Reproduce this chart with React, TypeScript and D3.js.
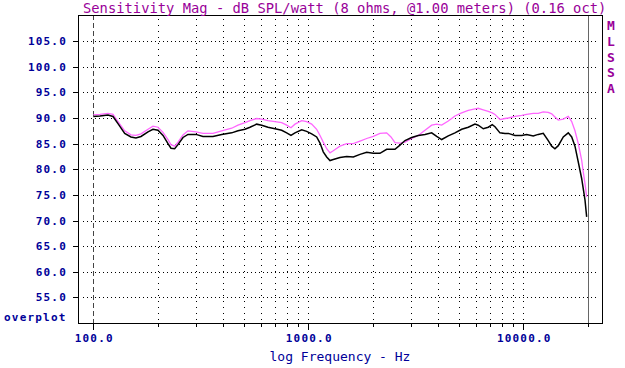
import React from 'react'
import * as d3 from 'd3'

const frequencies = [
  100, 107.4, 117, 123.5, 130.3, 140, 149.7, 157.9, 166.7, 179.7, 189.5, 200, 211, 222.6, 229.8, 239.1,
  247.7, 261.4, 275.7, 300.4, 323.7, 360.4, 395.6, 440.4, 471, 507.7, 535.6, 575.4, 607.1, 649.5, 700,
  752.2, 793.5, 830.9, 867.3, 931.7, 983.1, 1037, 1094, 1134, 1174, 1218, 1262, 1307, 1404, 1509, 1620,
  1740, 1869, 2006, 2155, 2315, 2425, 2531, 2670, 2818, 3026, 3248, 3490, 3750, 3956, 4174, 4479, 4812,
  5171, 5549, 5962, 6176, 6516, 6874, 7175, 7386, 7792, 8221, 8517, 9150, 9831, 10370, 11130, 11740,
  12390, 13070, 13560, 14040, 14550, 15350, 16190, 16800, 17400, 18030, 18690, 19010, 19370, 19720,
]

// black trace
const splBlack = [
  90.3, 90.4, 90.6, 90.3, 88.9, 87.0, 86.3, 86.1, 86.4, 87.3, 87.8, 87.6, 86.6, 85.0, 84.1, 84.0,
  84.8, 86.2, 86.8, 86.8, 86.4, 86.4, 86.8, 87.1, 87.5, 87.8, 88.2, 88.8, 88.6, 88.2, 87.9,
  87.6, 87.1, 86.6, 87.1, 87.7, 87.4, 86.9, 86.3, 85.1, 83.4, 82.4, 81.7, 81.9, 82.3, 82.5, 82.4,
  82.9, 83.3, 83.1, 83.1, 83.9, 83.9, 83.9, 84.7, 85.6, 86.2, 86.6, 86.8, 87.1, 86.4, 85.8, 86.5, 87.1,
  87.8, 88.2, 88.8, 88.6, 87.9, 88.2, 88.7, 88.3, 87.1, 87.0, 87.0, 86.6, 86.6, 86.8, 86.5, 86.8,
  87.0, 85.6, 84.5, 84.0, 84.6, 86.3, 87.1, 86.3, 84.5, 81.4, 78.2, 76.2, 74.0, 70.7,
]

// overplot trace
const splOverplot = [
  90.6, 90.7, 90.9, 90.7, 89.3, 87.5, 86.7, 86.6, 86.9, 87.8, 88.4, 88.2, 87.2, 85.8, 84.8, 84.5,
  85.3, 86.7, 87.5, 87.3, 87.0, 87.0, 87.5, 88.0, 88.6, 89.1, 89.5, 89.9, 89.8, 89.5, 89.3,
  89.1, 88.6, 88.1, 88.8, 89.5, 89.3, 88.8, 87.8, 86.6, 85.3, 84.0, 83.2, 83.6, 84.5, 85.0, 85.0,
  85.5, 86.0, 86.4, 87.0, 87.1, 86.3, 85.2, 85.1, 85.3, 86.0, 86.6, 87.6, 88.6, 88.8, 88.6, 89.4, 90.4,
  91.0, 91.5, 91.8, 91.9, 91.6, 91.3, 91.0, 90.7, 89.7, 89.9, 90.0, 90.3, 90.5, 90.7, 90.9, 90.9,
  91.2, 91.1, 90.8, 90.2, 89.6, 89.8, 90.3, 89.3, 87.5, 85.0, 81.8, 79.5, 77.2, 74.6,
]

const dbTicks = [55, 60, 65, 70, 75, 80, 85, 90, 95, 100, 105]
const freqLabels = [100, 1000, 10000]
const gridFreqs = [200, 300, 400, 500, 600, 700, 800, 900, 1000, 2000, 3000, 4000, 5000, 6000, 7000, 8000, 9000, 10000]
const tickFreqs = [100, 200, 300, 400, 500, 600, 700, 800, 900, 1000, 2000, 3000, 4000, 5000, 6000, 7000, 8000, 9000, 10000, 20000]

const width = 625
const height = 368
const frame = { left: 78, right: 602, top: 15, bottom: 323 }

const xScale = d3.scaleLog().domain([84.9, 23240]).range([frame.left, frame.right])
const yScale = d3.scaleLinear().domain([50, 110]).range([frame.bottom, frame.top + 0.5])

const blue = '#000099'
const purple = '#990099'
const mono = '"DejaVu Sans Mono", "Liberation Mono", monospace'

const line = d3
  .line<number>()
  .x((d, i) => xScale(frequencies[i]))
  .y(d => yScale(d))

function Grid() {
  return (
    <g>
      {dbTicks.map(t => (
        <line key={t} x1={83} x2={598} y1={Math.round(yScale(t)) + 0.5} y2={Math.round(yScale(t)) + 0.5}
          stroke="#000" strokeWidth={1} strokeDasharray="1 3" />
      ))}
      {gridFreqs.map(f => (
        <line key={f} x1={Math.round(xScale(f)) + 0.5} x2={Math.round(xScale(f)) + 0.5} y1={19} y2={321}
          stroke="#000" strokeWidth={1} strokeDasharray="1 5" />
      ))}
      <line x1={Math.round(xScale(100)) + 0.5} x2={Math.round(xScale(100)) + 0.5} y1={frame.top} y2={frame.bottom}
        stroke="#444" strokeWidth={1} strokeDasharray="5 3" />
      <line x1={Math.round(xScale(20000)) + 0.5} x2={Math.round(xScale(20000)) + 0.5} y1={frame.top} y2={frame.bottom}
        stroke="#666" strokeWidth={1} />
    </g>
  )
}

function Axes() {
  return (
    <g>
      <rect x={frame.left + 0.5} y={frame.top + 0.5} width={frame.right - frame.left} height={frame.bottom - frame.top}
        fill="none" stroke="#000" strokeWidth={1} />
      {dbTicks.map(t => (
        <g key={t}>
          <line x1={73} x2={frame.left} y1={Math.round(yScale(t)) + 0.5} y2={Math.round(yScale(t)) + 0.5} stroke="#000" />
          <text x={67} y={yScale(t) + 4} textAnchor="end" fontFamily={mono} fontWeight="bold" fontSize={11}
            letterSpacing={1.2} fill={blue}>
            {t.toFixed(1)}
          </text>
        </g>
      ))}
      {tickFreqs.map(f => {
        const major = freqLabels.includes(f)
        return (
          <line key={f} x1={Math.round(xScale(f)) + 0.5} x2={Math.round(xScale(f)) + 0.5}
            y1={frame.bottom} y2={frame.bottom + (major ? 7 : 4)} stroke="#000" />
        )
      })}
      {freqLabels.map(f => (
        <text key={f} x={xScale(f) + 1} y={342} textAnchor="middle" fontFamily={mono} fontWeight="bold"
          fontSize={11} letterSpacing={1.2} fill={blue}>
          {f.toFixed(1)}
        </text>
      ))}
      <text x={4} y={321} fontFamily={mono} fontWeight="bold" fontSize={11} letterSpacing={1.2} fill={blue}>
        overplot
      </text>
      <text x={340} y={361} textAnchor="middle" fontFamily={mono} fontSize={13} fill={blue}>
        log Frequency - Hz
      </text>
    </g>
  )
}

function Titles() {
  const letters = ['M', 'L', 'S', 'S', 'A']
  return (
    <g>
      <text x={83} y={13} fontFamily={mono} fontSize={13.8} fill={purple}>
        Sensitivity Mag - dB SPL/watt (8 ohms, @1.00 meters) (0.16 oct)
      </text>
      {letters.map((l, i) => (
        <text key={i} x={611} y={30 + i * 15.8} textAnchor="middle" fontFamily={mono} fontWeight="bold"
          fontSize={13} fill={purple}>
          {l}
        </text>
      ))}
    </g>
  )
}

export default function App() {
  return (
    <svg width={width} height={height} style={{ position: 'absolute', left: 0, top: 0, background: '#fff' }}>
      <rect width={width} height={height} fill="#fff" />
      <Grid />
      <Axes />
      <path d={line(splOverplot) || ''} fill="none" stroke="#ff66ff" strokeWidth={1.3} />
      <path d={line(splBlack) || ''} fill="none" stroke="#000" strokeWidth={1.5} />
      <Titles />
    </svg>
  )
}
